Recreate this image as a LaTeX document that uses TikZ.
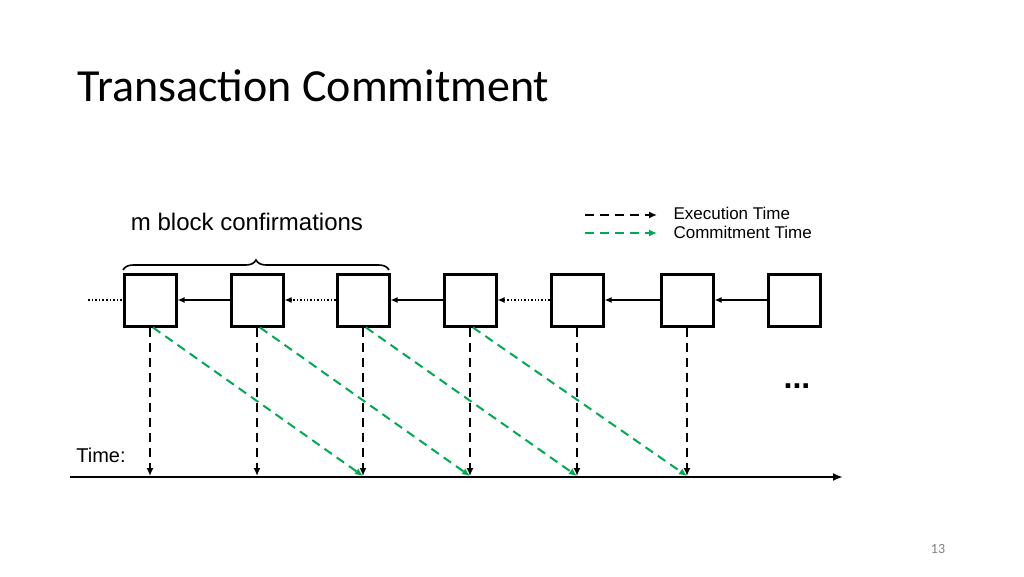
\documentclass[tikz,border=0pt]{standalone}
\usepackage{fontspec}
\setmainfont{Liberation Sans}
\newfontfamily\titlefont{Carlito}
\usetikzlibrary{arrows.meta,decorations.pathreplacing}
\definecolor{grn}{RGB}{0,170,80}
\begin{document}
\begin{tikzpicture}[x=1pt,y=-1pt,
  blk/.style={draw,line width=3pt,minimum size=52pt,inner sep=0pt},
  link/.style={-{Latex[length=7pt,width=6pt]},line width=1.4pt},
  dotl/.style={link,dotted,line width=1.6pt},
  exe/.style={-{Latex[length=8pt,width=7pt]},dashed,line width=2pt,dash pattern=on 9pt off 6pt},
  com/.style={exe,grn}]
\useasboundingbox (0,0) rectangle (1024,576);
\node[anchor=west,font=\titlefont\fontsize{46}{50}\selectfont] (title) at (74,86) {Transaction Commitment};
\foreach \i/\x in {1/150,2/257,3/363,4/470,5/577,6/687,7/794}
  \node[blk] (b\i) at (\x,300) {};
\coordinate (l0) at (88,300);
\draw[dotted,line width=1.6pt] (l0) -- (b1.west);
\draw[link] (b2) -- (b1);
\draw[dotl] (b3) -- (b2);
\draw[link] (b4) -- (b3);
\draw[dotl] (b5) -- (b4);
\draw[link] (b6) -- (b5);
\draw[link] (b7) -- (b6);
\coordinate (a0) at (70,477);
\coordinate (a1) at (843,477);
\draw[-{Latex[length=10pt,width=8pt]},line width=2.6pt] (a0) -- (a1);
\foreach \i in {1,...,6}{
  \coordinate (t\i) at (b\i.south |- 0,476);
  \draw[exe] (b\i.south) -- (t\i);}
\foreach \i/\j in {1/3,2/4,3/5,4/6}
  \draw[com] ([xshift=3pt]b\i.south) -- (t\j);
\node[font=\fontsize{20}{22}\selectfont] (time) at (101,455) {Time:};
\node[font=\bfseries\fontsize{32}{34}\selectfont] (dots) at (797,386) {...};
\draw[decorate,decoration={brace,amplitude=10pt},line width=1.6pt] (123,270) -- (389,270);
\node[font=\fontsize{24}{28}\selectfont] (lab) at (247,222) {m block confirmations};
\coordinate (e0) at (585,215); \coordinate (e1) at (657,215);
\coordinate (c0) at (585,233); \coordinate (c1) at (657,233);
\draw[exe] (e0) -- (e1);
\draw[com] (c0) -- (c1);
\node[anchor=west,font=\fontsize{17}{19}\selectfont] (le) at (670,213) {Execution Time};
\node[anchor=west,font=\fontsize{17}{19}\selectfont] (lc) at (670,232) {Commitment Time};
\node[font=\titlefont\fontsize{14}{16}\selectfont,gray] (pg) at (938,549) {13};
\end{tikzpicture}
\end{document}
